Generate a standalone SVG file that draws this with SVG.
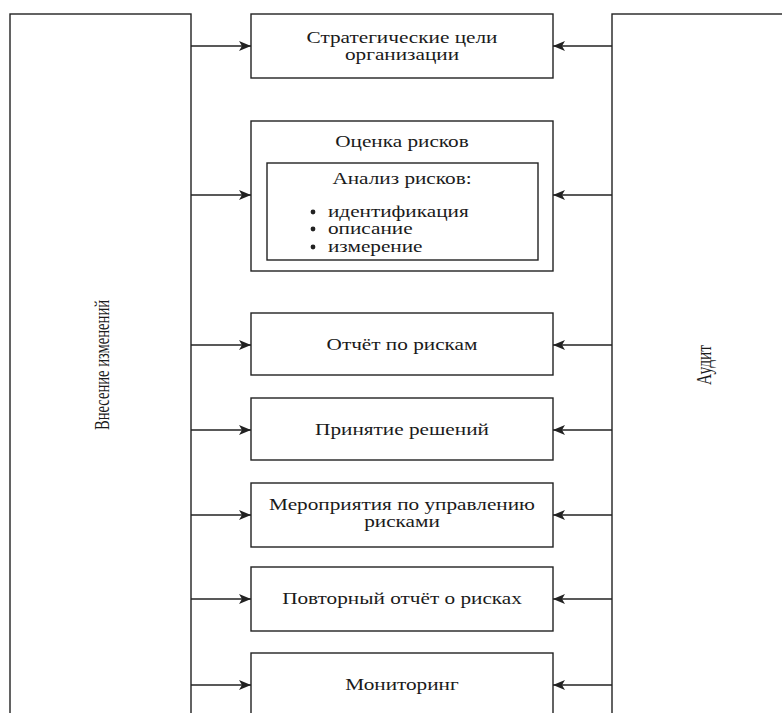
<svg xmlns="http://www.w3.org/2000/svg" width="782" height="713" viewBox="0 0 782 713">
<style>
.b{fill:#fff;stroke:#222;stroke-width:1.4}
.c{stroke:#222;stroke-width:1.3;fill:none}
text{font-family:"Liberation Serif","Times New Roman",serif;font-size:17px;fill:#1a1a1a}
.m{text-anchor:middle}
.v{font-size:22px}
</style>
<defs>
<marker id="ah" viewBox="0 0 12 10" refX="12" refY="5" markerWidth="12" markerHeight="10" markerUnits="userSpaceOnUse" orient="auto">
<path d="M0,0 L12,5 L0,10 L3,5 Z" fill="#222"/>
</marker>
</defs>
<rect width="782" height="713" fill="#fff"/>
<g id="left">
<rect class="b" x="10" y="14" width="181" height="720"/>
<text class="m v" transform="translate(109,365) rotate(-90)" textLength="130" lengthAdjust="spacingAndGlyphs">Внесение изменений</text>
</g>
<g id="right">
<rect class="b" x="612" y="14" width="200" height="720"/>
<text class="m v" transform="translate(711,365) rotate(-90)" textLength="40" lengthAdjust="spacingAndGlyphs">Аудит</text>
</g>
<g id="n1">
<rect class="b" x="251" y="14" width="302" height="64"/>
<g transform="matrix(1.25,0,0,1,-100.5,0)">
<text class="m" x="402" y="43">Стратегические цели</text>
<text class="m" x="402" y="60">организации</text>
</g>
</g>
<g id="n2">
<rect class="b" x="251" y="121" width="302" height="150"/>
<rect class="b" x="267" y="163" width="271" height="97"/>
<circle cx="313" cy="212" r="2.4" fill="#222"/>
<circle cx="313" cy="229" r="2.4" fill="#222"/>
<circle cx="313" cy="247" r="2.4" fill="#222"/>
<g transform="matrix(1.25,0,0,1,-100.5,0)">
<text class="m" x="402" y="147">Оценка рисков</text>
<text class="m" x="402" y="184">Анализ рисков:</text>
<text x="342.8" y="217">идентификация</text>
<text x="342.8" y="234">описание</text>
<text x="342.8" y="252">измерение</text>
</g>
</g>
<g id="n3">
<rect class="b" x="251" y="313" width="302" height="62"/>
<text class="m" x="402" y="350" transform="matrix(1.25,0,0,1,-100.5,0)">Отчёт по рискам</text>
</g>
<g id="n4">
<rect class="b" x="251" y="398" width="302" height="62"/>
<text class="m" x="402" y="435" transform="matrix(1.25,0,0,1,-100.5,0)">Принятие решений</text>
</g>
<g id="n5">
<rect class="b" x="251" y="483" width="302" height="64"/>
<g transform="matrix(1.25,0,0,1,-100.5,0)">
<text class="m" x="402" y="510">Мероприятия по управлению</text>
<text class="m" x="402" y="527">рисками</text>
</g>
</g>
<g id="n6">
<rect class="b" x="251" y="567" width="302" height="64"/>
<text class="m" x="402" y="604" transform="matrix(1.25,0,0,1,-100.5,0)">Повторный отчёт о рисках</text>
</g>
<g id="n7">
<rect class="b" x="251" y="653" width="302" height="80"/>
<text class="m" x="402" y="690" transform="matrix(1.25,0,0,1,-100.5,0)">Мониторинг</text>
</g>
<g id="connectors">
<line class="c" x1="191" y1="46" x2="251" y2="46" marker-end="url(#ah)"/>
<line class="c" x1="191" y1="195" x2="251" y2="195" marker-end="url(#ah)"/>
<line class="c" x1="191" y1="345" x2="251" y2="345" marker-end="url(#ah)"/>
<line class="c" x1="191" y1="430" x2="251" y2="430" marker-end="url(#ah)"/>
<line class="c" x1="191" y1="515" x2="251" y2="515" marker-end="url(#ah)"/>
<line class="c" x1="191" y1="599" x2="251" y2="599" marker-end="url(#ah)"/>
<line class="c" x1="191" y1="685" x2="251" y2="685" marker-end="url(#ah)"/>
<line class="c" x1="612" y1="46" x2="553" y2="46" marker-end="url(#ah)"/>
<line class="c" x1="612" y1="195" x2="553" y2="195" marker-end="url(#ah)"/>
<line class="c" x1="612" y1="345" x2="553" y2="345" marker-end="url(#ah)"/>
<line class="c" x1="612" y1="430" x2="553" y2="430" marker-end="url(#ah)"/>
<line class="c" x1="612" y1="515" x2="553" y2="515" marker-end="url(#ah)"/>
<line class="c" x1="612" y1="599" x2="553" y2="599" marker-end="url(#ah)"/>
<line class="c" x1="612" y1="685" x2="553" y2="685" marker-end="url(#ah)"/>
</g>
</svg>
